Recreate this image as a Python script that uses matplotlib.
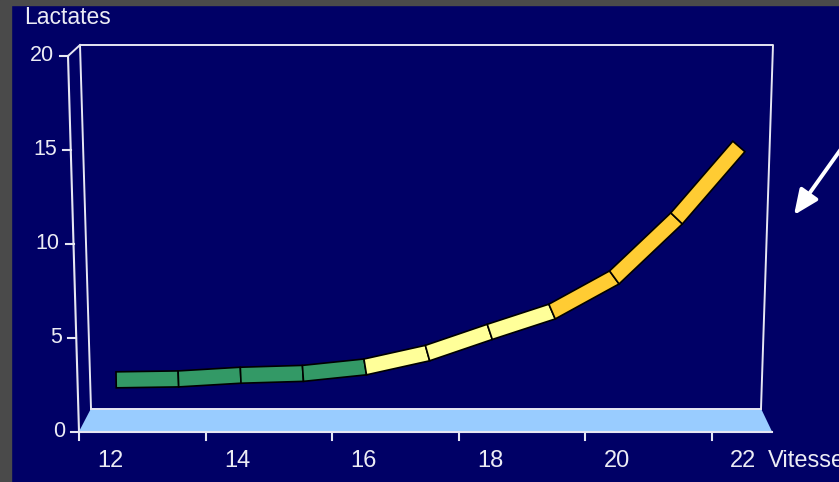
import matplotlib
matplotlib.use('Agg')
import matplotlib.pyplot as plt
from matplotlib.patches import Polygon
from matplotlib.lines import Line2D
from matplotlib.transforms import blended_transform_factory
import numpy as np

# Lactate level measured at each running speed (km/h)
vitesse = [12, 13, 14, 15, 16, 17, 18, 19, 20, 21, 22]
lactates = [2.15, 2.2, 2.4, 2.5, 2.85, 3.6, 4.75, 5.85, 7.7, 10.9, 14.8]
# colour of each stretch between two consecutive speeds
zones = ['#339966'] * 4 + ['#ffff99'] * 3 + ['#ffcc33'] * 3

x_labels = [12, 14, 16, 18, 20, 22]
y_ticks = [0, 5, 10, 15, 20]

W, H = 839, 482
NAVY = '#000066'
LINE = '#e6e6f2'
TXT = '#ececf4'
FONT = 'Liberation Sans'


def px(x, y):
    # pixel position (from top-left) -> figure fraction
    return x / W, 1 - y / H


fig = plt.figure(figsize=(W / 100, H / 100), dpi=100, facecolor=NAVY)

# grey frame on the top and left edges
fig.patches.append(plt.Rectangle((0, 1 - 5 / H), 1, 5 / H, transform=fig.transFigure,
                                 color='#4a4a4a', zorder=0))
fig.patches.append(plt.Rectangle((0, 0), 11 / W, 1, transform=fig.transFigure,
                                 color='#4a4a4a', zorder=0))

# front plane: carries the axes, ticks and labels
L, R, B, T = 79, 775, 431.5, 56
ax = fig.add_axes([L / W, 1 - B / H, (R - L) / W, (B - T) / H])
ax.set_xlim(11.5, 22.5)
ax.set_ylim(0, 20)
ax.axis('off')

# back wall outline
wall = [px(80, 45), px(773, 45), px(761, 408.5), px(91, 408.5)]
fig.add_artist(Line2D([wall[3][0], wall[0][0], wall[1][0], wall[2][0]],
                      [wall[3][1], wall[0][1], wall[1][1], wall[2][1]],
                      transform=fig.transFigure, color=LINE, lw=1.4))

# floor
floor = [px(79, 431.5), px(772, 431.5), px(761, 408.5), px(91, 408.5)]
fig.add_artist(Polygon(floor, closed=True, transform=fig.transFigure,
                       facecolor='#99ccff', edgecolor='none'))
fig.add_artist(Line2D([floor[3][0], floor[2][0]], [floor[3][1], floor[2][1]],
                      transform=fig.transFigure, color=LINE, lw=1.4))
fig.add_artist(Line2D([floor[0][0], floor[1][0]], [floor[0][1], floor[1][1]],
                      transform=fig.transFigure, color=LINE, lw=1.5))

# slanted value axis joined to the wall corner
top_corner = px(68, 56)
fig.add_artist(Line2D([top_corner[0], wall[0][0]], [top_corner[1], wall[0][1]],
                      transform=fig.transFigure, color=LINE, lw=1.4))
lean = -11 / (R - L)
ytr = blended_transform_factory(ax.transAxes, ax.transData)
ax.plot([lean, 0], [20, 0], transform=ytr, color=LINE, lw=1.5, clip_on=False)
for v in y_ticks:
    xa = lean * v / 20
    ax.plot([xa - 8 / (R - L), xa], [v, v], transform=ytr, color=LINE, lw=1.5,
            clip_on=False)
    ax.text(xa - 14 / (R - L), v, str(v), transform=ytr, ha='right', va='center',
            color=TXT, fontsize=15.5, family=FONT)

# category ticks sit between every second speed
xtr = blended_transform_factory(ax.transData, ax.transAxes)
for v in x_labels:
    ax.plot([v - 0.5, v - 0.5], [0, -8 / (B - T)], transform=xtr, color=LINE,
            lw=1.5, clip_on=False)
    ax.text(v, -29.5 / (B - T), str(v), transform=xtr, ha='center', va='center',
            color=TXT, fontsize=17, family=FONT)

fig.text(*px(768, 461), 'Vitesse', ha='left', va='center', color=TXT,
         fontsize=17, family=FONT)
fig.text(*px(24, 18), 'Lactates', ha='left', va='center', color=TXT,
         fontsize=16.5, family=FONT)

# mid-depth plane: the ribbon of the curve
rL, rR, rB, rT = 85, 770, 419.5, 50.5
rib = fig.add_axes([rL / W, 1 - rB / H, (rR - rL) / W, (rB - rT) / H])
rib.set_xlim(11.5, 22.5)
rib.set_ylim(0, 20)
rib.axis('off')

pts = rib.transData.transform(np.column_stack([vitesse, lactates]))
d = np.diff(pts, axis=0)
u = d / np.linalg.norm(d, axis=1)[:, None]
nrm = np.column_stack([-u[:, 1], u[:, 0]])
n_pts = np.zeros_like(pts)
n_pts[0] = nrm[0]
n_pts[-1] = nrm[-1]
for i in range(1, len(pts) - 1):
    b = nrm[i - 1] + nrm[i]
    b /= np.linalg.norm(b)
    n_pts[i] = b / np.dot(b, nrm[i])
half = 8
inv = rib.transData.inverted()
for i, c in enumerate(zones):
    quad = np.array([pts[i] + half * n_pts[i], pts[i + 1] + half * n_pts[i + 1],
                     pts[i + 1] - half * n_pts[i + 1], pts[i] - half * n_pts[i]])
    rib.add_patch(Polygon(inv.transform(quad), closed=True, facecolor=c,
                          edgecolor='black', lw=1.2, clip_on=False))

# pointer on the right
ax.annotate('', xy=(794, H - 215), xytext=(846, H - 142), xycoords='figure pixels',
            textcoords='figure pixels', annotation_clip=False,
            arrowprops=dict(arrowstyle='-|>,head_length=0.5,head_width=0.22',
                            mutation_scale=30, lw=2.8, color='white',
                            shrinkA=0, shrinkB=0))

fig.savefig('out.png', dpi=100, facecolor=NAVY)
